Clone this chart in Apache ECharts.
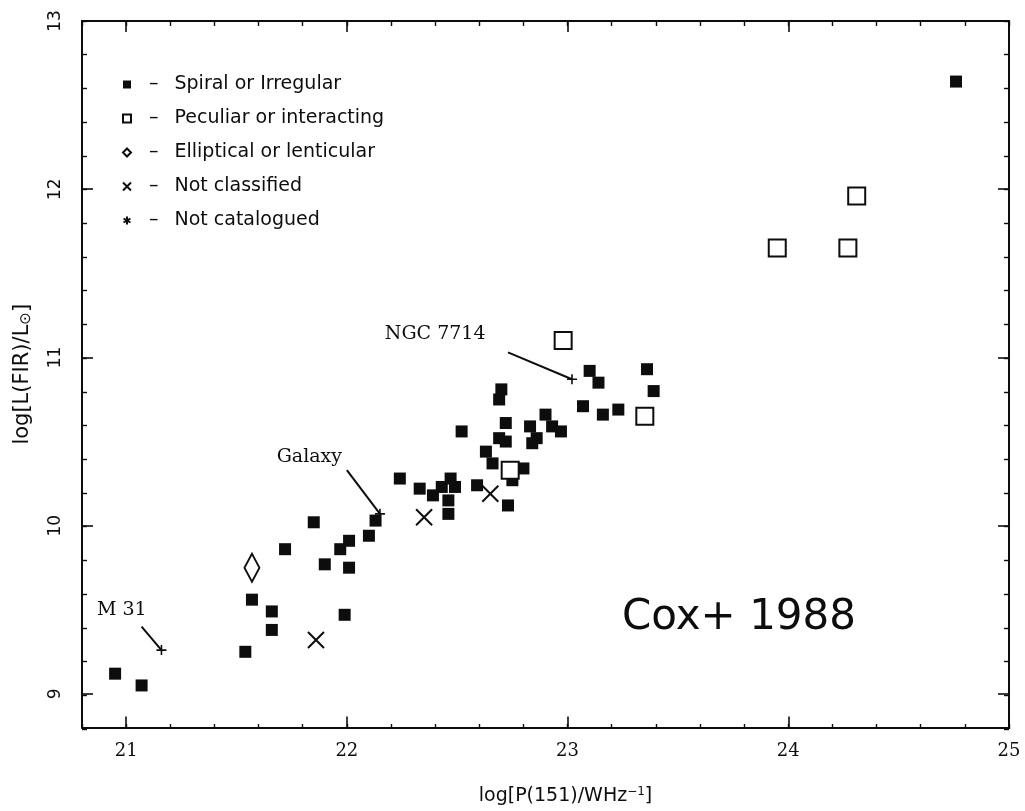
<!DOCTYPE html>
<html>
<head>
<meta charset="utf-8">
<script src="https://cdn.jsdelivr.net/npm/echarts@6/dist/echarts.min.js"></script>
<style>
html,body{margin:0;padding:0;background:#fff;}
#chart{width:1025px;height:811px;}
</style>
</head>
<body>
<div id="chart"></div>
<script>
// ---- data ----
const spiralOrIrregular = [
  [20.95, 9.12], [21.07, 9.05], [21.54, 9.25], [21.57, 9.56], [21.66, 9.49], [21.66, 9.38],
  [21.72, 9.86], [21.85, 10.02], [21.90, 9.77], [21.97, 9.86], [22.01, 9.91], [22.01, 9.75],
  [21.99, 9.47], [22.10, 9.94], [22.13, 10.03],
  [22.24, 10.28], [22.33, 10.22], [22.39, 10.18], [22.43, 10.23], [22.47, 10.28], [22.49, 10.23],
  [22.46, 10.15], [22.46, 10.07], [22.52, 10.56], [22.59, 10.24],
  [22.70, 10.81], [22.69, 10.75], [22.72, 10.61], [22.69, 10.52], [22.72, 10.50], [22.63, 10.44],
  [22.66, 10.37], [22.73, 10.12], [22.75, 10.27], [22.80, 10.34], [22.83, 10.59], [22.84, 10.49],
  [22.86, 10.52], [22.90, 10.66], [22.93, 10.59], [22.97, 10.56],
  [23.07, 10.71], [23.16, 10.66], [23.23, 10.69], [23.10, 10.92], [23.14, 10.85], [23.36, 10.93],
  [23.39, 10.80], [24.76, 12.64]
];
const peculiarOrInteracting = [
  [22.74, 10.33], [22.98, 11.10], [23.35, 10.65], [23.95, 11.65], [24.27, 11.65], [24.31, 11.96]
];
const ellipticalOrLenticular = [[21.57, 9.75]];
const notClassified = [[21.86, 9.32], [22.35, 10.05], [22.65, 10.19]];
const notCatalogued = [];

const namedObjects = ['M 31', 'Galaxy', 'NGC 7714'];
const namedPoints = [[21.16, 9.26], [22.15, 10.07], [23.02, 10.87]];
const leaderStarts = [[21.07, 9.40], [22.00, 10.33], [22.73, 11.03]];
const labelAnchors = [[20.98, 9.50], [21.83, 10.41], [22.40, 11.14]];

const categories = ['Spiral or Irregular', 'Peculiar or interacting', 'Elliptical or lenticular', 'Not classified', 'Not catalogued'];
const xTickValues = [21, 22, 23, 24, 25];
const yTickValues = [9, 10, 11, 12, 13];
const xRange = [20.8, 25];
const yRange = [8.8, 13];
const minorStep = 0.2;
const annotationText = 'Cox+ 1988';

// ---- chart ----
const ink = '#0d0d0d';
const crossPath = 'path://M0,0L10,10M10,0L0,10';
const plusPath = 'path://M5,0L5,10M0,5L10,5';
const starPath = 'path://M5,0L5,10M0.67,2.5L9.33,7.5M0.67,7.5L9.33,2.5';

const gridBox = {left: 82, right: 16, top: 21, bottom: 82};

function majorX(pos, withLabels) {
  return {
    type: 'value', gridIndex: 0, position: pos, min: xRange[0], max: xRange[1],
    splitLine: {show: false},
    axisLine: {show: true, onZero: false, lineStyle: {color: ink, width: 2}},
    axisTick: {show: true, inside: true, length: 11, customValues: xTickValues, lineStyle: {color: ink, width: 1.6}},
    axisLabel: withLabels ? {show: true, customValues: xTickValues, formatter: v => String(Math.round(v)),
      fontFamily: 'DejaVu Serif', fontSize: 18, color: ink, margin: 15} : {show: false}
  };
}
function minorX(pos) {
  return {
    type: 'value', gridIndex: 1, position: pos, min: xRange[0], max: xRange[1], interval: minorStep,
    splitLine: {show: false}, axisLine: {show: false, onZero: false},
    axisTick: {show: true, inside: true, length: 5, lineStyle: {color: ink, width: 1.4}},
    axisLabel: {show: false}
  };
}
function majorY(pos, withLabels) {
  return {
    type: 'value', gridIndex: 0, position: pos, min: yRange[0], max: yRange[1],
    splitLine: {show: false},
    axisLine: {show: true, onZero: false, lineStyle: {color: ink, width: 2}},
    axisTick: {show: true, inside: true, length: 11, customValues: yTickValues, lineStyle: {color: ink, width: 1.6}},
    axisLabel: withLabels ? {show: true, customValues: yTickValues, formatter: v => String(Math.round(v)), rotate: 90,
      fontFamily: 'DejaVu Sans', fontSize: 17, color: ink, margin: 18} : {show: false}
  };
}
function minorY(pos) {
  return {
    type: 'value', gridIndex: 1, position: pos, min: yRange[0], max: yRange[1], interval: minorStep,
    splitLine: {show: false}, axisLine: {show: false, onZero: false},
    axisTick: {show: true, inside: true, length: 5, lineStyle: {color: ink, width: 1.4}},
    axisLabel: {show: false}
  };
}

const xAxes = [majorX('bottom', true), majorX('top', false), minorX('bottom'), minorX('top')];
Object.assign(xAxes[0], {
  name: 'log[P(151)/WHz{sup|−1}]', nameLocation: 'middle', nameGap: 58,
  nameTextStyle: {fontFamily: 'DejaVu Sans', fontSize: 19, color: ink, padding: [0, 0, 0, 40],
    rich: {sup: {fontFamily: 'DejaVu Sans', fontSize: 12, color: ink, verticalAlign: 'top', padding: [0, 0, 10, 0]}}}
});
const yAxes = [majorY('left', true), majorY('right', false), minorY('left'), minorY('right')];
Object.assign(yAxes[0], {
  name: 'log[L(FIR)/L{sub|⊙}]', nameLocation: 'middle', nameGap: 48,
  nameTextStyle: {fontFamily: 'DejaVu Sans', fontSize: 21, color: ink,
    rich: {sub: {fontFamily: 'DejaVu Sans', fontSize: 15, color: ink, padding: [8, 0, 0, 0]}}}
});

const series = [
  {name: categories[0], type: 'scatter', data: spiralOrIrregular, symbol: 'rect', symbolSize: 12,
    itemStyle: {color: ink, opacity: 1}, z: 3},
  {name: categories[1], type: 'scatter', data: peculiarOrInteracting, symbol: 'rect', symbolSize: 17,
    itemStyle: {color: '#fff', borderColor: ink, borderWidth: 2, opacity: 1}, z: 4},
  {name: categories[2], type: 'scatter', data: ellipticalOrLenticular, symbol: 'diamond', symbolSize: [15, 28],
    itemStyle: {color: '#fff', borderColor: ink, borderWidth: 2, opacity: 1}, z: 4},
  {name: categories[3], type: 'scatter', data: notClassified, symbol: crossPath, symbolSize: 16,
    itemStyle: {color: 'rgba(0,0,0,0)', borderColor: ink, borderWidth: 2, opacity: 1}, z: 4},
  {name: categories[4], type: 'scatter', data: notCatalogued, symbol: starPath, symbolSize: 8,
    itemStyle: {color: 'rgba(0,0,0,0)', borderColor: ink, borderWidth: 2, opacity: 1}, z: 4},
  {name: 'named', type: 'scatter', data: namedPoints, symbol: plusPath, symbolSize: 10,
    itemStyle: {color: 'rgba(0,0,0,0)', borderColor: ink, borderWidth: 1.6, opacity: 1}, z: 5, silent: true},
  {name: 'labels', type: 'scatter', symbolSize: 0, silent: true, z: 6,
    itemStyle: {opacity: 1},
    data: labelAnchors.map((p, i) => ({value: p, name: namedObjects[i]})),
    label: {show: true, position: 'inside', formatter: p => p.name, fontFamily: 'DejaVu Serif',
      fontSize: 19, color: ink, opacity: 1}}
];
namedPoints.forEach((p, i) => {
  series.push({name: 'leader' + i, type: 'line', data: [leaderStarts[i], p], symbol: 'none', silent: true,
    lineStyle: {color: ink, width: 2}, z: 5});
});

const legendIcons = ['rect', 'rect', 'diamond', crossPath, starPath];

const chart = echarts.init(document.getElementById('chart'), null, {renderer: 'canvas'});
chart.setOption({
  backgroundColor: '#fff',
  animation: false,
  grid: [Object.assign({}, gridBox), Object.assign({}, gridBox)],
  xAxis: xAxes,
  yAxis: yAxes,
  legend: {
    orient: 'vertical', left: 117, top: 70, itemWidth: 8, itemHeight: 8, itemGap: 15,
    selectedMode: false,
    data: categories.map((c, i) => ({name: c, icon: legendIcons[i]})),
    formatter: n => '{d|–}{t|' + n + '}',
    textStyle: {fontFamily: 'DejaVu Sans', fontSize: 19, color: ink,
      rich: {d: {fontFamily: 'DejaVu Sans', fontSize: 19, color: ink, padding: [0, 16, 0, 13]},
             t: {fontFamily: 'DejaVu Sans', fontSize: 19, color: ink}}}
  },
  graphic: [{type: 'text', left: 622, top: 597,
    style: {text: annotationText, fontFamily: 'DejaVu Sans', fontSize: 42, fill: ink}}],
  series: series
});
</script>
</body>
</html>
